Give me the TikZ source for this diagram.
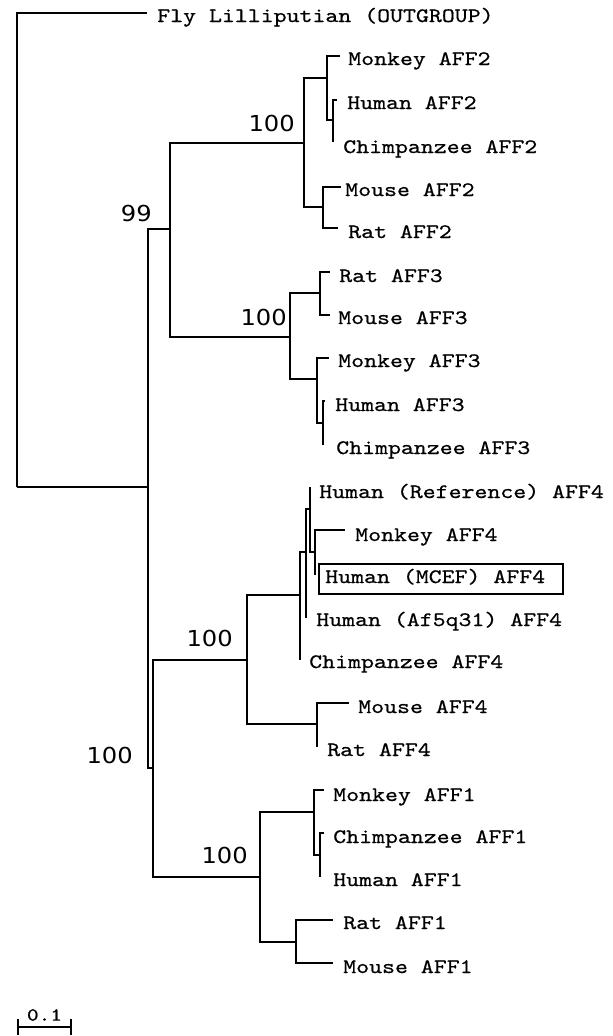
\documentclass[tikz,border=0pt]{standalone}
\usepackage{fontspec}
\newfontfamily\cour[FakeStretch=1.2,FakeBold=0.6]{lmmono10-regular.otf}
\newfontfamily\numfont[FakeStretch=1.1]{DejaVu Sans}
\begin{document}
\begin{tikzpicture}[x=0.75pt,y=-0.75pt,
  br/.style={line width=1.6pt},
  lbl/.style={anchor=base west, inner sep=0pt, font=\cour\fontsize{15.4}{19}\selectfont},
  bs/.style={anchor=east, inner sep=0pt, font=\numfont\fontsize{16.5}{19}\selectfont},
  sbl/.style={inner sep=0pt, font=\cour\fontsize{13.9}{15}\selectfont}]
\useasboundingbox (0,0) rectangle (613,1036);
% internal nodes
\coordinate (root) at (17,487);
\coordinate (ing) at (148,487);
\coordinate (n99) at (170,229);
\coordinate (a2) at (304,143);
\coordinate (a2a) at (327,78);
\coordinate (a2b) at (333,120);
\coordinate (a2c) at (323,207);
\coordinate (a3) at (290,337);
\coordinate (a3a) at (320,293);
\coordinate (a3b) at (317,379);
\coordinate (a3c) at (323,423);
\coordinate (a41) at (153,768);
\coordinate (a4) at (247,660);
\coordinate (d4) at (300,595);
\coordinate (c4) at (306,552);
\coordinate (b4) at (310,509);
\coordinate (e4) at (315,552);
\coordinate (f4) at (317,724);
\coordinate (a1) at (260,877);
\coordinate (g1) at (314,812);
\coordinate (h1) at (320,855);
\coordinate (j1) at (296,942);
% leaves
\coordinate (fly) at (147,13);
\coordinate (mk2) at (340,56);
\coordinate (hu2) at (337,100);
\coordinate (ch2) at (333,142);
\coordinate (mo2) at (341,187);
\coordinate (ra2) at (338,228);
\coordinate (ra3) at (330,272);
\coordinate (mo3) at (330,315);
\coordinate (mk3) at (329,358);
\coordinate (hu3) at (325,401);
\coordinate (ch3) at (323,445);
\coordinate (hr4) at (310,487);
\coordinate (mk4) at (345,530);
\coordinate (mc4) at (315,575);
\coordinate (af4) at (306,618);
\coordinate (ch4) at (300,660);
\coordinate (mo4) at (349,703);
\coordinate (ra4) at (317,747);
\coordinate (mk1) at (324,790);
\coordinate (ch1) at (324,833);
\coordinate (hu1) at (320,877);
\coordinate (ra1) at (333,920);
\coordinate (mo1) at (333,963);
% branches
\draw[br] (root) |- (fly);
\draw[br] (root) -- (ing);
\draw[br] (ing) |- (n99);
\draw[br] (ing) |- (a41);
\draw[br] (n99) |- (a2);
\draw[br] (n99) |- (a3);
\draw[br] (a2) |- (a2a);
\draw[br] (a2) |- (a2c);
\draw[br] (a2a) |- (mk2);
\draw[br] (a2a) |- (a2b);
\draw[br] (a2b) |- (hu2);
\draw[br] (a2b) |- (ch2);
\draw[br] (a2c) |- (mo2);
\draw[br] (a2c) |- (ra2);
\draw[br] (a3) |- (a3a);
\draw[br] (a3) |- (a3b);
\draw[br] (a3a) |- (ra3);
\draw[br] (a3a) |- (mo3);
\draw[br] (a3b) |- (mk3);
\draw[br] (a3b) |- (a3c);
\draw[br] (a3c) |- (hu3);
\draw[br] (a3c) |- (ch3);
\draw[br] (a41) |- (a4);
\draw[br] (a41) |- (a1);
\draw[br] (a4) |- (d4);
\draw[br] (a4) |- (f4);
\draw[br] (d4) |- (c4);
\draw[br] (d4) |- (ch4);
\draw[br] (c4) |- (b4);
\draw[br] (c4) |- (af4);
\draw[br] (b4) |- (hr4);
\draw[br] (b4) |- (e4);
\draw[br] (e4) |- (mk4);
\draw[br] (e4) |- (mc4);
\draw[br] (f4) |- (mo4);
\draw[br] (f4) |- (ra4);
\draw[br] (a1) |- (g1);
\draw[br] (a1) |- (j1);
\draw[br] (g1) |- (mk1);
\draw[br] (g1) |- (h1);
\draw[br] (h1) |- (ch1);
\draw[br] (h1) |- (hu1);
\draw[br] (j1) |- (ra1);
\draw[br] (j1) |- (mo1);
% leaf labels
\node[lbl] (tfly) at (157,22) {Fly Lilliputian (OUTGROUP)};
\node[lbl] (tmk2) at (348,65) {Monkey AFF2};
\node[lbl] (thu2) at (347,109) {Human AFF2};
\node[lbl] (tch2) at (343,153) {Chimpanzee AFF2};
\node[lbl] (tmo2) at (345,196) {Mouse AFF2};
\node[lbl] (tra2) at (348,238) {Rat AFF2};
\node[lbl] (tra3) at (339,282) {Rat AFF3};
\node[lbl] (tmo3) at (338,324) {Mouse AFF3};
\node[lbl] (tmk3) at (338,367) {Monkey AFF3};
\node[lbl] (thu3) at (335,411) {Human AFF3};
\node[lbl] (tch3) at (336,454) {Chimpanzee AFF3};
\node[lbl] (thr4) at (319,498) {Human (Reference) AFF4};
\node[lbl] (tmk4) at (355,541) {Monkey AFF4};
\node[lbl] (tmc4) at (325,583) {Human (MCEF) AFF4};
\node[lbl] (taf4) at (316,626) {Human (Af5q31) AFF4};
\node[lbl] (tch4) at (309,668) {Chimpanzee AFF4};
\node[lbl] (tmo4) at (358,713) {Mouse AFF4};
\node[lbl] (tra4) at (327,756) {Rat AFF4};
\node[lbl] (tmk1) at (333,801) {Monkey AFF1};
\node[lbl] (tch1) at (333,843) {Chimpanzee AFF1};
\node[lbl] (thu1) at (333,886) {Human AFF1};
\node[lbl] (tra1) at (343,929) {Rat AFF1};
\node[lbl] (tmo1) at (343,973) {Mouse AFF1};
\draw[br] (319,564) rectangle (563,594);
% bootstrap values
\node[bs] (b1) at (295,123) {100};
\node[bs] (b2) at (152,213) {99};
\node[bs] (b3) at (287,317) {100};
\node[bs] (b4l) at (233,638) {100};
\node[bs] (b5) at (133,755) {100};
\node[bs] (b6) at (248,855) {100};
% scale bar
\coordinate (sb1) at (18,1027);
\coordinate (sb2) at (71,1027);
\draw[br] (sb1) -- (sb2);
\draw[br] ([yshift=-6]sb1) -- ([yshift=6]sb1);
\draw[br] ([yshift=-6]sb2) -- ([yshift=6]sb2);
\node[sbl] (sbt) at (44.5,1015) {0.1};
\end{tikzpicture}
\end{document}
